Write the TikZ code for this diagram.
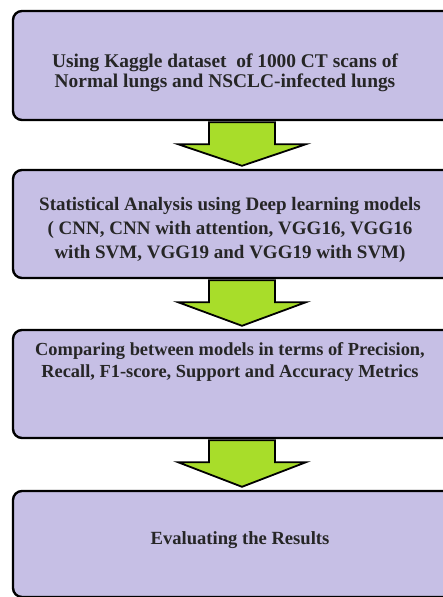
\documentclass[tikz,border=0pt]{standalone}
\usepackage{fontspec}
\setmainfont{Liberation Serif}
\usepackage{xcolor}
\usetikzlibrary{calc}

\definecolor{boxfill}{RGB}{198,191,229}
\definecolor{arrowfill}{RGB}{168,221,42}

\tikzset{
  stagebox/.style={draw=black,line width=2.4pt,fill=boxfill,rounded corners=9pt,
    minimum width=458pt,inner sep=0pt},
  stagetext/.style={font=\bfseries\fontsize{19.2}{23.5}\selectfont,align=center,
    text=black!85,inner sep=0pt},
  flowarrow/.style={draw=black,line width=1.8pt,fill=arrowfill,line join=miter}
}

\newcommand{\blockarrow}[2]{%
  \path[flowarrow] ($(#1.south)+(-33,1)$) -- ($(#1.south)+(33,1)$)
    -- ($(#1.south)+(33,23)$) -- ($(#1.south)+(64,23)$)
    -- ($(#2.north)+(0,-3)$)
    -- ($(#1.south)+(-64,23)$) -- ($(#1.south)+(-33,23)$) -- cycle;}

\begin{document}
\begin{tikzpicture}[x=1pt,y=-1pt]
        \useasboundingbox (0,0) rectangle (443,597);
        \clip (0,0) rectangle (443,597);
        \fill[white] (0,0) rectangle (443,597);

        % the four stages
        \node[stagebox,minimum height=109pt] (data) at (242,65.5) {};
        \node[stagebox,minimum height=108pt] (analysis) at (242,224) {};
        \node[stagebox,minimum height=108pt] (compare) at (242,384) {};
        \node[stagebox,minimum height=106pt] (results) at (242,544) {};

        \node[stagetext,font=\bfseries\fontsize{19.4}{20.5}\selectfont] (datatext) at (225,73) {Using Kaggle dataset\ \ of 1000 CT scans of\\Normal lungs and NSCLC-infected lungs};
        \node[stagetext,font=\bfseries\fontsize{19}{24}\selectfont] (analysistext) at (230,229.5) {Statistical Analysis using Deep learning models\\( CNN, CNN with attention, VGG16, VGG16\\with SVM, VGG19 and VGG19 with SVM)};
        \node[stagetext,font=\bfseries\fontsize{18.4}{22}\selectfont] (comparetext) at (230,362.5) {Comparing between models in terms of Precision,\\Recall, F1-score, Support and Accuracy Metrics};
        \node[stagetext,font=\bfseries\fontsize{18.6}{22}\selectfont] (resultstext) at (240,540) {Evaluating the Results};

        % arrows between stages
        \blockarrow{data}{analysis}
        \blockarrow{analysis}{compare}
        \blockarrow{compare}{results}
    \end{tikzpicture}
\end{document}
